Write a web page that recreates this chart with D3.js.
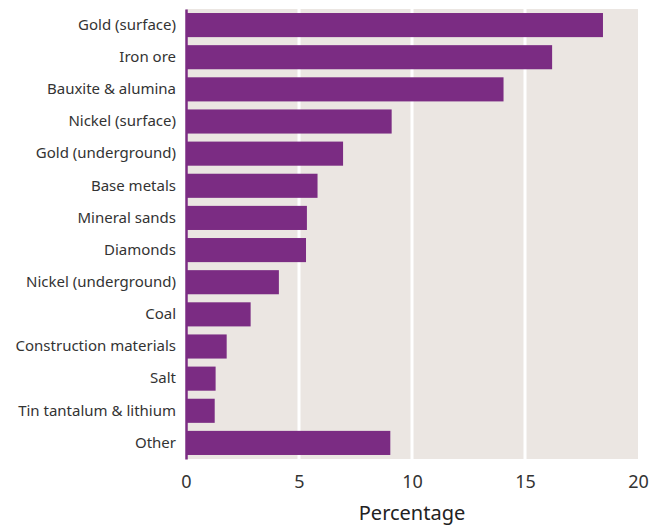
<!DOCTYPE html>
<html>
<head>
<meta charset="utf-8">
<script src="https://cdn.jsdelivr.net/npm/d3@7"></script>
<style>
    body { margin: 0; background: #fff; }
    .y.axis text { font-family: "Noto Sans", sans-serif; font-size: 15px; fill: #333; }
    .x.axis text { font-family: "Noto Sans", sans-serif; font-size: 18px; fill: #333; }
</style>
</head>
<body>
<div class="chart"></div>
<script>
var categories = ["Gold (surface)", "Iron ore", "Bauxite & alumina", "Nickel (surface)",
    "Gold (underground)", "Base metals", "Mineral sands", "Diamonds",
    "Nickel (underground)", "Coal", "Construction materials", "Salt",
    "Tin tantalum & lithium", "Other"];
var values = [18.45, 16.2, 14.05, 9.1, 6.95, 5.82, 5.35, 5.31, 4.11, 2.86, 1.8, 1.31, 1.27, 9.04];
var xTicks = [0, 5, 10, 15, 20];

var margin = {top: 9, right: 23, bottom: 67, left: 186},
    width = 661 - margin.left - margin.right,
    height = 526 - margin.top - margin.bottom;

var x = d3.scaleLinear()
    .domain([0, 20])
    .range([0, width]);

var y = d3.scaleBand()
    .domain(categories)
    .range([0, height])
    .paddingInner(0.25)
    .paddingOuter(0.125);

var svg = d3.select(".chart").append("svg")
    .attr("width", 661)
    .attr("height", 526)
    .append("g")
    .attr("transform", "translate(" + margin.left + "," + margin.top + ")");

svg.append("rect")
    .attr("width", width)
    .attr("height", height)
    .attr("fill", "#ebe6e2");

// white gridlines
svg.selectAll("line.grid")
    .data(xTicks.slice(1, -1))
    .enter().append("line")
    .attr("class", "grid")
    .attr("x1", function(d) { return x(d); })
    .attr("x2", function(d) { return x(d); })
    .attr("y1", 0)
    .attr("y2", height)
    .attr("stroke", "#fff")
    .attr("stroke-width", 3);

svg.selectAll("rect.bar")
    .data(values)
    .enter().append("rect")
    .attr("class", "bar")
    .attr("x", x(0))
    .attr("y", function(d, i) { return y(categories[i]); })
    .attr("width", function(d) { return x(d) - x(0); })
    .attr("height", y.bandwidth())
    .attr("fill", "#7b2c83");

var xAxis = d3.axisBottom(x)
    .tickValues(xTicks)
    .tickSize(0)
    .tickPadding(16);

svg.append("g")
    .attr("class", "x axis")
    .attr("transform", "translate(0," + height + ")")
    .call(xAxis)
    .call(function(g) { g.select(".domain").remove(); });

var yAxis = d3.axisLeft(y)
    .tickSize(0)
    .tickPadding(10);

svg.append("g")
    .attr("class", "y axis")
    .call(yAxis)
    .call(function(g) {
        g.select(".domain")
            .attr("stroke", "#7b2c83")
            .attr("stroke-width", 2.5);
    });

svg.append("text")
    .attr("x", width / 2)
    .attr("y", height + 61)
    .style("text-anchor", "middle")
    .style("font-family", "Noto Sans, sans-serif")
    .style("font-size", "20px")
    .style("fill", "#222")
    .text("Percentage");
</script>
</body>
</html>
